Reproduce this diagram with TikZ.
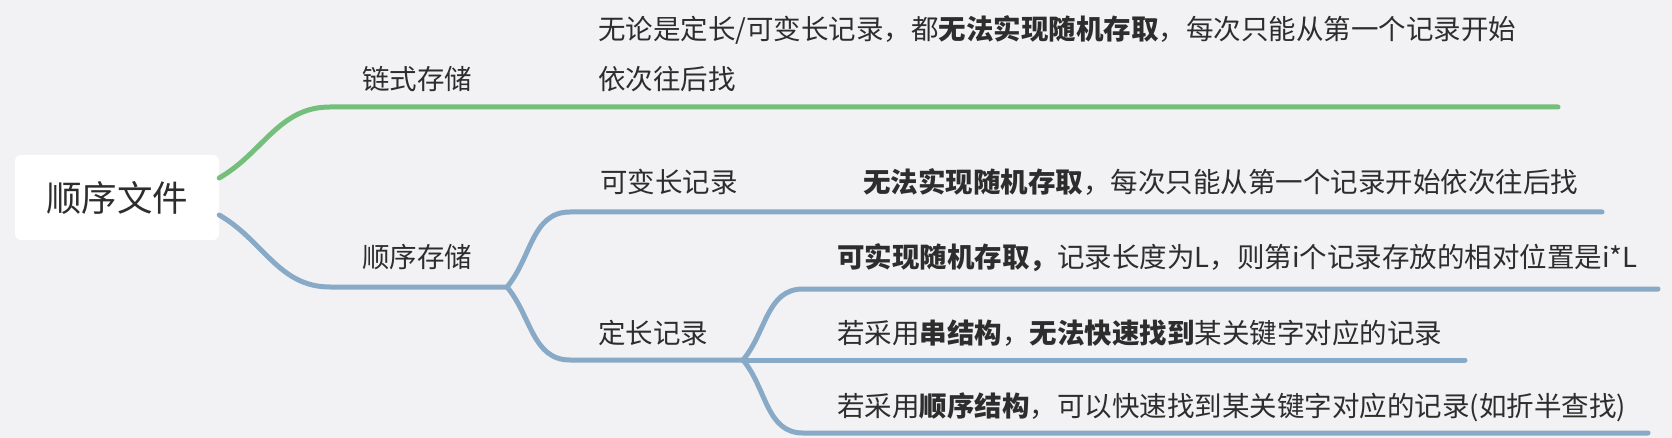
\documentclass[tikz,border=0pt]{standalone}
\usepackage{fontspec}
\setmainfont{Noto Sans CJK SC}
\usetikzlibrary{positioning}
\definecolor{bgc}{RGB}{242,242,245}
\definecolor{gline}{RGB}{117,191,124}
\definecolor{bline}{RGB}{136,170,199}
\definecolor{txt}{RGB}{45,45,45}

\begin{document}
\begin{tikzpicture}[x=1pt,y=-1pt,
root/.style={fill=white,rounded corners=6pt,minimum width=204pt,minimum height=85pt,
 font=\fontsize{35.5}{40}\selectfont,text=txt},
lbl/.style={anchor=base west,inner sep=0pt,font=\fontsize{27.5}{50}\selectfont,text=txt},
gbr/.style={gline,line width=5pt,line cap=round},
bbr/.style={bline,line width=5pt,line cap=round}]
 \fill[bgc] (0,0) rectangle (1672,438);
 \useasboundingbox (0,0) rectangle (1672,438);

 \node[root] (root) at (117,197.5) {顺序文件};

 % branch ends
 \coordinate (g0) at (330,107); \coordinate (gend) at (1558,107);
 \coordinate (b0) at (330,287); \coordinate (bj) at (507,287);
 \coordinate (v0) at (570,212); \coordinate (vend) at (1602,212);
 \coordinate (f0) at (570,360); \coordinate (fj) at (743,360);

 \draw[gbr] ([yshift=19.5pt]root.east) to[out=30,in=180] (g0) -- (gend);
 \draw[bbr] ([yshift=-17.5pt]root.east) to[out=-30,in=180] (b0) -- (bj);
 \draw[bbr] (bj) to[out=50,in=180] (v0) -- (vend);
 \draw[bbr] (bj) to[out=-50,in=180] (f0) -- (fj);

 \foreach \Y/\E/\A in {289/1658/50, 360/1465/0, 433/1648/-50} {
 \draw[bbr] (fj) to[out=\A,in=180] (803,\Y) coordinate (l\Y) -- (\E,\Y);
 }

 \node[lbl] (lian) at (362,90) {链式存储};
 \node[lbl,align=left] (lianT) at (598,90)
 {无论是定长/可变长记录，都\textbf{无法实现随机存取}，每次只能从第一个记录开始\\依次往后找};

 \node[lbl] (shun) at (362,268) {顺序存储};
 \node[lbl] (kebian) at (600,193) {可变长记录};
 \node[lbl] (kebianT) at (863,193) {\textbf{无法实现随机存取}，每次只能从第一个记录开始依次往后找};

 \node[lbl] (ding) at (598,343) {定长记录};
 \node[lbl] (d1) at (837,268) {\textbf{可实现随机存取，}记录长度为L，则第i个记录存放的相对位置是i*L};
 \node[lbl] (d2) at (837,343) {若采用\textbf{串结构}，\textbf{无法快速找到}某关键字对应的记录};
 \node[lbl] (d3) at (837,416) {若采用\textbf{顺序结构}，可以快速找到某关键字对应的记录(如折半查找)};

\end{tikzpicture}
\end{document}
